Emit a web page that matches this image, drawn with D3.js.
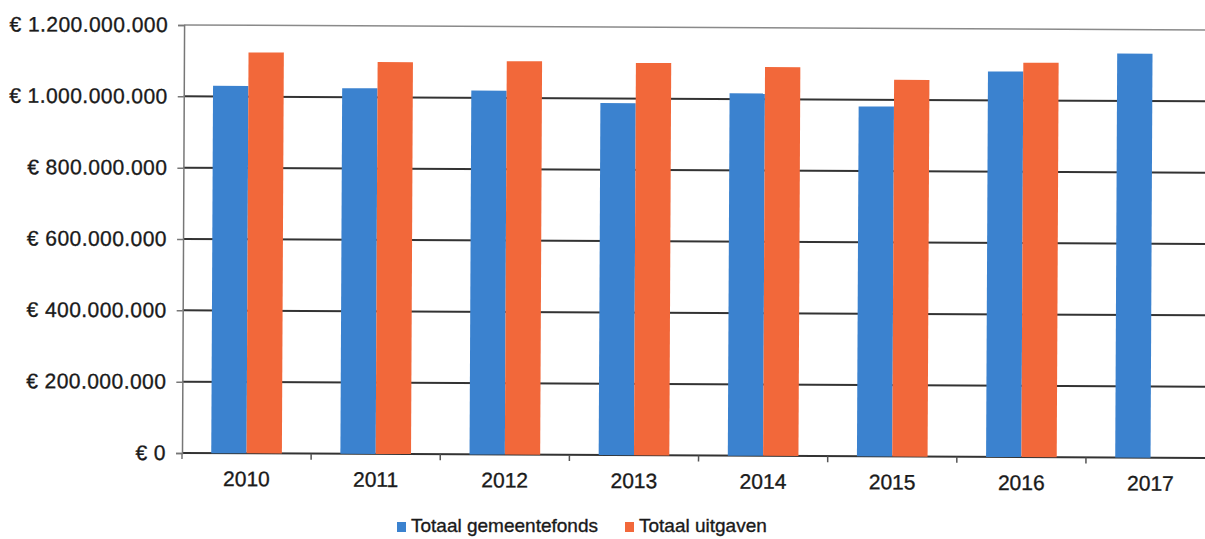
<!DOCTYPE html>
<html>
<head>
<meta charset="utf-8">
<script src="https://cdn.jsdelivr.net/npm/d3@7"></script>
<style>
  body { margin: 0; background: #fff; }
  svg { display: block; font-family: "Liberation Sans", Arial, sans-serif; }
  text { stroke: #1a1a1a; stroke-width: 0.35px; }
</style>
</head>
<body>
<svg></svg>
<script>
// jaren en bedragen (euro)
var years = ['2010','2011','2012','2013','2014','2015','2016','2017'];
var gemeentefonds = [1030e6, 1025e6, 1020e6, 987e6, 1016e6, 981e6, 1081e6, 1133e6];
var uitgaven = [1124e6, 1099e6, 1103e6, 1100e6, 1090e6, 1056e6, 1106e6, null];
var yTicks = [0, 200e6, 400e6, 600e6, 800e6, 1000e6, 1200e6];
var seriesNames = ['Totaal gemeentefonds', 'Totaal uitgaven'];
var colors = ['#3b82cf', '#f2683a'];

var svgWidth = 1205, svgHeight = 539;
var plotLeft = 182, plotTop = 25, plotBottom = 453, band = 129.14;

var svg = d3.select('svg')
  .attr('width', svgWidth)
  .attr('height', svgHeight);

// scan is a little tilted
var g = svg.append('g')
  .attr('transform', 'rotate(0.28,' + plotLeft + ',' + plotBottom + ')');

var xScale = d3.scaleBand()
  .domain(years)
  .range([plotLeft, plotLeft + band * years.length])
  .paddingInner(0.453)
  .paddingOuter(0.2265);

var xSub = d3.scaleBand()
  .domain([0, 1])
  .range([0, xScale.bandwidth()]);

var yScale = d3.scaleLinear()
  .domain([0, 1200e6])
  .range([plotBottom, plotTop]);

var nl = d3.formatLocale({ decimal: ',', thousands: '.', grouping: [3], currency: ['€ ', ''] });
var fmt = nl.format(',.0f');

// gridlines
g.selectAll('line.grid')
  .data(yTicks)
  .enter()
  .append('line')
  .attr('class', 'grid')
  .attr('x1', plotLeft)
  .attr('x2', plotLeft + band * years.length)
  .attr('y1', d => yScale(d))
  .attr('y2', d => yScale(d))
  .attr('stroke', d => d == 1200e6 ? '#8a8a8a' : '#333')
  .attr('stroke-width', d => d == 1200e6 ? 1.5 : 2);

// bars
var data = years.map((y, i) => ({ year: y, vals: [gemeentefonds[i], uitgaven[i]] }));

g.selectAll('g.year')
  .data(data)
  .enter()
  .append('g')
  .attr('class', 'year')
  .attr('transform', d => 'translate(' + xScale(d.year) + ',0)')
  .selectAll('rect')
  .data(d => d.vals.map((v, k) => ({ k: k, v: v })).filter(e => e.v != null))
  .enter()
  .append('rect')
  .attr('x', d => xSub(d.k))
  .attr('y', d => yScale(d.v))
  .attr('width', xSub.bandwidth())
  .attr('height', d => plotBottom - yScale(d.v))
  .attr('fill', d => colors[d.k]);

// y axis
var yAxis = d3.axisLeft(yScale)
  .tickValues(yTicks)
  .tickSize(6)
  .tickPadding(10)
  .tickFormat(d => '€ ' + fmt(d));

var yg = g.append('g')
  .attr('transform', 'translate(' + plotLeft + ',0)')
  .call(yAxis)
  .call(a => a.select('.domain').attr('stroke', '#777').attr('stroke-width', 1.5))
  .call(a => a.selectAll('.tick line').attr('stroke', '#777').attr('stroke-width', 1.5))
  .call(a => a.selectAll('.tick text').attr('font-size', 21).attr('letter-spacing', 0.45)
    .attr('fill', '#1a1a1a').attr('font-family', null));

// axis line runs a bit below the baseline
yg.append('line')
  .attr('x1', 0).attr('x2', 0)
  .attr('y1', plotBottom).attr('y2', plotBottom + 6)
  .attr('stroke', '#777').attr('stroke-width', 1.5);

// x axis
var xAxis = d3.axisBottom(xScale).tickSize(0).tickPadding(18);

var xg = g.append('g')
  .attr('transform', 'translate(0,' + plotBottom + ')')
  .call(xAxis);
xg.select('.domain').remove();
xg.selectAll('.tick text').attr('font-size', 21).attr('fill', '#1a1a1a').attr('font-family', null);

// ticks between categories
xg.selectAll('line.sep')
  .data(d3.range(1, years.length + 1))
  .enter()
  .append('line')
  .attr('class', 'sep')
  .attr('x1', i => plotLeft + band * i)
  .attr('x2', i => plotLeft + band * i)
  .attr('y1', 0)
  .attr('y2', 6)
  .attr('stroke', '#555')
  .attr('stroke-width', 1.5);

// legend
var legend = svg.append('g').attr('transform', 'translate(397,532)');
var lx = [0, 228];
seriesNames.forEach((name, i) => {
  var it = legend.append('g').attr('transform', 'translate(' + lx[i] + ',0)');
  it.append('rect')
    .attr('x', 0).attr('y', -10)
    .attr('width', 9).attr('height', 10)
    .attr('fill', colors[i]);
  it.append('text')
    .attr('x', 14)
    .attr('y', 0)
    .attr('font-size', 19)
    .attr('fill', '#1a1a1a')
    .text(name);
});
</script>
</body>
</html>
